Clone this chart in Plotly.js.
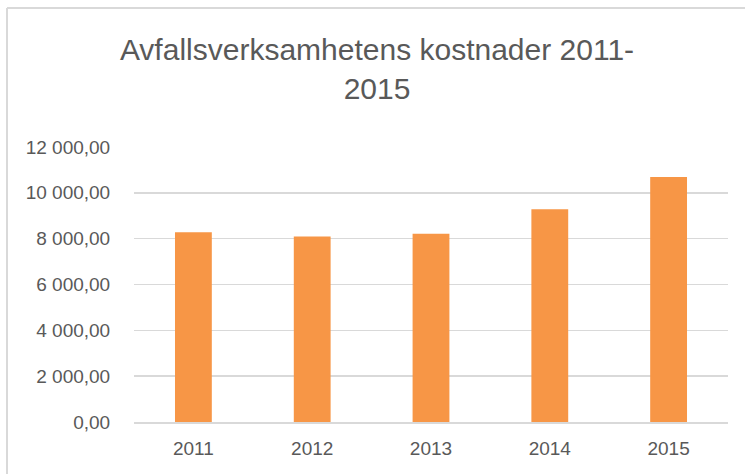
<!DOCTYPE html>
<html>
<head>
<meta charset="utf-8">
<script src="https://cdn.plot.ly/plotly-3.0.1.min.js"></script>
<style>html,body{margin:0;padding:0;background:#fff;}#chart{width:745px;height:474px;}</style>
</head>
<body>
<div id="chart"></div>
<script>
const years = ['2011', '2012', '2013', '2014', '2015'];
const costs = [8280, 8100, 8220, 9280, 10690];
const yTicks = [0, 2000, 4000, 6000, 8000, 10000, 12000];
const chartTitle = 'Avfallsverksamhetens kostnader 2011-<br>2015';

const W = 745, H = 474;
const L = 134, R = 17, T = 147, B = 52;
const pw = W - L - R, ph = H - T - B;
const px = v => (v - L) / pw;
const py = v => 1 - (v - T) / ph;
const borderColor = '#D9D9D9';
const textColor = '#595959';
const fontFam = '"Liberation Sans", Arial, sans-serif';

Plotly.newPlot('chart', [{
  type: 'bar',
  x: years,
  y: costs,
  marker: {color: '#F79646', line: {width: 0}},
  hoverinfo: 'x+y'
}], {
  width: W, height: H,
  margin: {l: L, r: R, t: T, b: B, pad: 0},
  paper_bgcolor: '#fff', plot_bgcolor: '#fff',
  separators: ', ',
  bargap: 0.69,
  showlegend: false,
  font: {family: fontFam, color: textColor},
  title: {
    text: chartTitle,
    font: {family: fontFam, size: 30, color: textColor},
    x: 377 / W, xref: 'container', xanchor: 'center',
    y: 1 - 60 / H, yref: 'container', yanchor: 'top'
  },
  xaxis: {
    type: 'category',
    showgrid: false, zeroline: false,
    showline: true, linecolor: borderColor, linewidth: 1.5,
    ticks: 'outside', ticklen: 9, tickcolor: 'rgba(0,0,0,0)',
    tickfont: {size: 19, color: textColor},
    fixedrange: true
  },
  yaxis: {
    range: [0, 12000],
    tickvals: yTicks,
    tickformat: ',.2f',
    showgrid: true, gridcolor: borderColor, gridwidth: 1.5,
    zeroline: false, showline: false,
    ticks: 'outside', ticklen: 19, tickcolor: 'rgba(0,0,0,0)',
    tickfont: {size: 19, color: textColor},
    fixedrange: true
  },
  shapes: [
    {type: 'line', xref: 'paper', yref: 'paper', x0: px(7), x1: px(7), y0: py(8), y1: py(H + 5), line: {color: borderColor, width: 2}},
    {type: 'line', xref: 'paper', yref: 'paper', x0: px(7), x1: px(W + 5), y0: py(8), y1: py(8), line: {color: borderColor, width: 2}}
  ]
}, {displayModeBar: false, staticPlot: true});
</script>
</body>
</html>
